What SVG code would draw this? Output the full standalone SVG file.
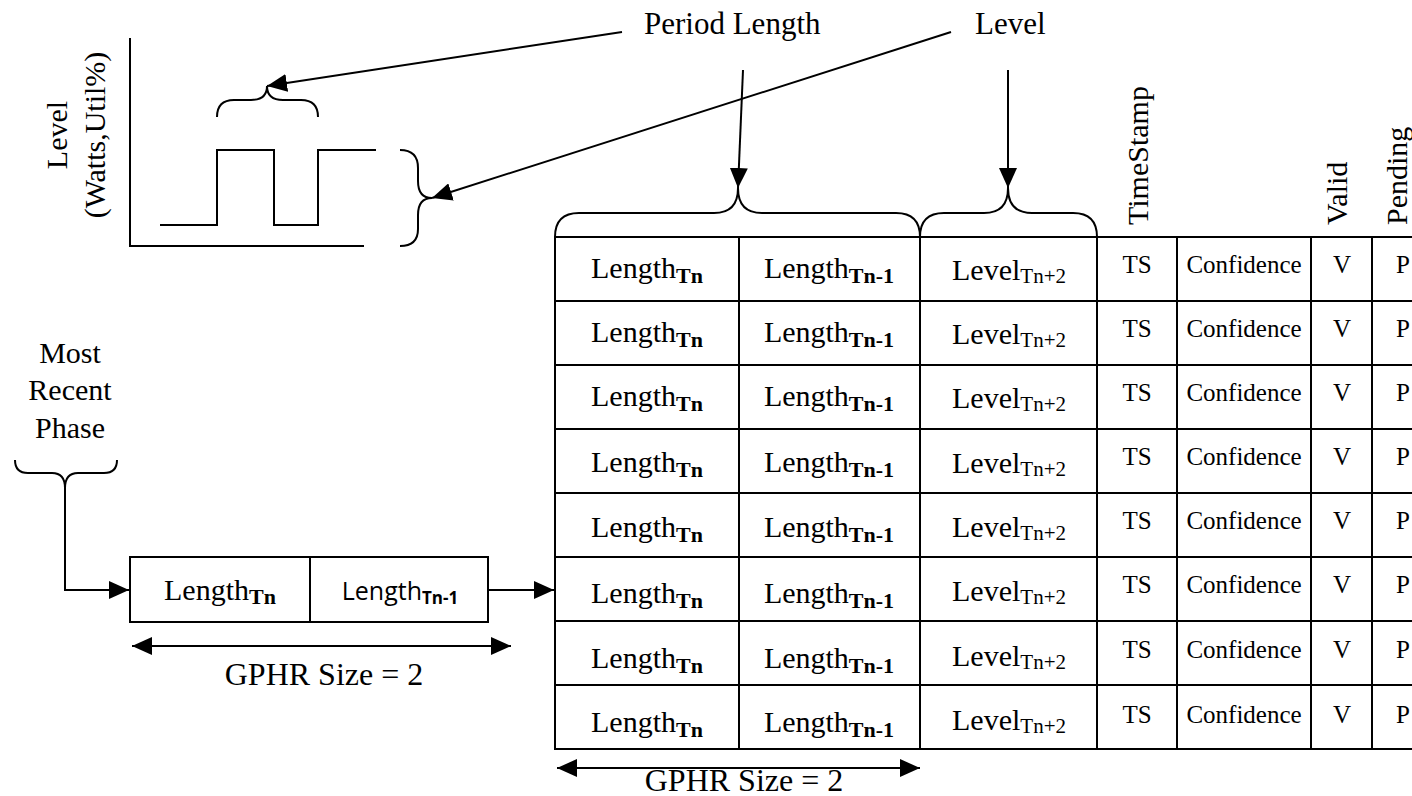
<svg xmlns="http://www.w3.org/2000/svg" width="1412" height="796" viewBox="0 0 1412 796">
<style>
text{font-family:"Liberation Serif","Times New Roman",serif;fill:#000}
.ln{fill:none;stroke:#000;stroke-width:2}
.big{font-size:30px}
.lbl{font-size:31px}
.gp{font-size:32px}
.cell{font-size:30px;text-anchor:middle}
.sb{font-size:22px;font-weight:bold}
.sr{font-size:21px}
.sm{font-size:25px;text-anchor:middle}
.sans{font-family:"Open Sans","Noto Sans",sans-serif;font-size:25px}
.sanssb{font-family:"Open Sans","Noto Sans",sans-serif;font-size:17px;font-weight:bold}
</style>
<defs>
<marker id="ah" viewBox="0 0 20 18" refX="20" refY="9" markerWidth="20" markerHeight="18" markerUnits="userSpaceOnUse" orient="auto-start-reverse">
<path d="M0,0 L20,9 L0,18 z" fill="#000"/>
</marker>
</defs>

<g id="graph">
<path class="ln" d="M130,38 L130,246 L364,246"/>
<path class="ln" d="M160,225 L217,225 L217,150 L274,150 L274,225 L318,225 L318,150 L376,150"/>
<path class="ln" d="M217,117 Q217,100 234,100 L251,100 Q267,100 267,86 Q267,100 283,100 L301,100 Q318,100 318,117"/>
<path class="ln" d="M400,150 Q418,150 418,168 L418,181 Q418,198 432,198 Q418,198 418,215 L418,229 Q418,246 400,246"/>
<text class="big" text-anchor="middle" transform="translate(67,135) rotate(-90)">Level</text>
<text class="big" text-anchor="middle" transform="translate(105,135) rotate(-90)">(Watts,Util%)</text>
</g>

<g id="label-period">
<text class="lbl" x="644" y="34">Period Length</text>
</g>
<g id="label-level">
<text class="lbl" x="975" y="34">Level</text>
</g>

<g id="headers">
<text class="big" transform="translate(1148,225) rotate(-90)">TimeStamp</text>
<text class="big" transform="translate(1347,225) rotate(-90)">Valid</text>
<text class="big" transform="translate(1407,225) rotate(-90)">Pending</text>
</g>

<g id="most-recent">
<text class="big" text-anchor="middle" x="70" y="363">Most</text>
<text class="big" text-anchor="middle" x="70" y="400">Recent</text>
<text class="big" text-anchor="middle" x="70" y="438">Phase</text>
<path class="ln" d="M15,460 Q15,473 28,473 L52,473 Q65,473 65,488 Q65,473 78,473 L104,473 Q117,473 117,460"/>
</g>

<g id="gphr-box">
<rect class="ln" x="130" y="557" width="358" height="65"/>
<line class="ln" x1="310" y1="557" x2="310" y2="622"/>
<text class="big" x="220" y="600" text-anchor="middle">Length<tspan class="sb" dy="4">Tn</tspan></text>
<text x="400" y="600" text-anchor="middle"><tspan class="sans">Length</tspan><tspan class="sanssb" dy="4">Tn-1</tspan></text>
<text class="gp" x="324" y="685" text-anchor="middle">GPHR Size = 2</text>
</g>

<g id="table">
<rect class="ln" x="555" y="237" width="900" height="512"/>
<path class="ln" d="M739,237 V749 M920,237 V749 M1097,237 V749 M1177,237 V749 M1311,237 V749 M1372,237 V749"/>
<path class="ln" d="M555,301 H1440 M555,365 H1440 M555,429 H1440 M555,493 H1440 M555,557 H1440 M555,621 H1440 M555,685 H1440"/>
<path class="ln" d="M555,237 Q555,213 579,213 L714,213 Q738,213 738,188 Q738,213 762,213 L896,213 Q920,213 920,237"/>
<path class="ln" d="M920,237 Q920,213 944,213 L984,213 Q1008,213 1008,188 Q1008,213 1032,213 L1073,213 Q1097,213 1097,237"/>
<text class="gp" x="744" y="791" text-anchor="middle">GPHR Size = 2</text>
</g>

<g id="rows">
<g id="row1">
<text class="cell" x="647" y="278">Length<tspan class="sb" dy="5">Tn</tspan></text>
<text class="cell" x="829" y="278">Length<tspan class="sb" dy="5">Tn-1</tspan></text>
<text class="cell" x="1009" y="280">Level<tspan class="sr" dy="3">Tn+2</tspan></text>
<text class="sm" x="1137" y="273">TS</text>
<text class="sm" x="1244" y="273">Confidence</text>
<text class="sm" x="1342" y="273">V</text>
<text class="sm" x="1403" y="273">P</text>
</g>
<g id="row2">
<text class="cell" x="647" y="342">Length<tspan class="sb" dy="5">Tn</tspan></text>
<text class="cell" x="829" y="342">Length<tspan class="sb" dy="5">Tn-1</tspan></text>
<text class="cell" x="1009" y="344">Level<tspan class="sr" dy="3">Tn+2</tspan></text>
<text class="sm" x="1137" y="337">TS</text>
<text class="sm" x="1244" y="337">Confidence</text>
<text class="sm" x="1342" y="337">V</text>
<text class="sm" x="1403" y="337">P</text>
</g>
<g id="row3">
<text class="cell" x="647" y="406">Length<tspan class="sb" dy="5">Tn</tspan></text>
<text class="cell" x="829" y="406">Length<tspan class="sb" dy="5">Tn-1</tspan></text>
<text class="cell" x="1009" y="408">Level<tspan class="sr" dy="3">Tn+2</tspan></text>
<text class="sm" x="1137" y="401">TS</text>
<text class="sm" x="1244" y="401">Confidence</text>
<text class="sm" x="1342" y="401">V</text>
<text class="sm" x="1403" y="401">P</text>
</g>
<g id="row4">
<text class="cell" x="647" y="472">Length<tspan class="sb" dy="5">Tn</tspan></text>
<text class="cell" x="829" y="472">Length<tspan class="sb" dy="5">Tn-1</tspan></text>
<text class="cell" x="1009" y="473">Level<tspan class="sr" dy="3">Tn+2</tspan></text>
<text class="sm" x="1137" y="465">TS</text>
<text class="sm" x="1244" y="465">Confidence</text>
<text class="sm" x="1342" y="465">V</text>
<text class="sm" x="1403" y="465">P</text>
</g>
<g id="row5">
<text class="cell" x="647" y="537">Length<tspan class="sb" dy="5">Tn</tspan></text>
<text class="cell" x="829" y="537">Length<tspan class="sb" dy="5">Tn-1</tspan></text>
<text class="cell" x="1009" y="537">Level<tspan class="sr" dy="3">Tn+2</tspan></text>
<text class="sm" x="1137" y="529">TS</text>
<text class="sm" x="1244" y="529">Confidence</text>
<text class="sm" x="1342" y="529">V</text>
<text class="sm" x="1403" y="529">P</text>
</g>
<g id="row6">
<text class="cell" x="647" y="603">Length<tspan class="sb" dy="5">Tn</tspan></text>
<text class="cell" x="829" y="603">Length<tspan class="sb" dy="5">Tn-1</tspan></text>
<text class="cell" x="1009" y="601">Level<tspan class="sr" dy="3">Tn+2</tspan></text>
<text class="sm" x="1137" y="593">TS</text>
<text class="sm" x="1244" y="593">Confidence</text>
<text class="sm" x="1342" y="593">V</text>
<text class="sm" x="1403" y="593">P</text>
</g>
<g id="row7">
<text class="cell" x="647" y="668">Length<tspan class="sb" dy="5">Tn</tspan></text>
<text class="cell" x="829" y="668">Length<tspan class="sb" dy="5">Tn-1</tspan></text>
<text class="cell" x="1009" y="666">Level<tspan class="sr" dy="3">Tn+2</tspan></text>
<text class="sm" x="1137" y="658">TS</text>
<text class="sm" x="1244" y="658">Confidence</text>
<text class="sm" x="1342" y="658">V</text>
<text class="sm" x="1403" y="658">P</text>
</g>
<g id="row8">
<text class="cell" x="647" y="732">Length<tspan class="sb" dy="5">Tn</tspan></text>
<text class="cell" x="829" y="732">Length<tspan class="sb" dy="5">Tn-1</tspan></text>
<text class="cell" x="1009" y="730">Level<tspan class="sr" dy="3">Tn+2</tspan></text>
<text class="sm" x="1137" y="723">TS</text>
<text class="sm" x="1244" y="723">Confidence</text>
<text class="sm" x="1342" y="723">V</text>
<text class="sm" x="1403" y="723">P</text>
</g>
</g>

<g id="connectors">
<line class="ln" x1="622" y1="32" x2="267" y2="86" marker-end="url(#ah)"/>
<line class="ln" x1="951" y1="32" x2="432" y2="198" marker-end="url(#ah)"/>
<line class="ln" x1="743" y1="70" x2="738" y2="188" marker-end="url(#ah)"/>
<line class="ln" x1="1008" y1="70" x2="1008" y2="188" marker-end="url(#ah)"/>
<path class="ln" d="M65,488 L65,590 L129,590" marker-end="url(#ah)"/>
<line class="ln" x1="488" y1="590" x2="554" y2="590" marker-end="url(#ah)"/>
<line class="ln" x1="132" y1="646" x2="511" y2="646" marker-start="url(#ah)" marker-end="url(#ah)"/>
<line class="ln" x1="557" y1="768" x2="920" y2="768" marker-start="url(#ah)" marker-end="url(#ah)"/>
</g>
</svg>
